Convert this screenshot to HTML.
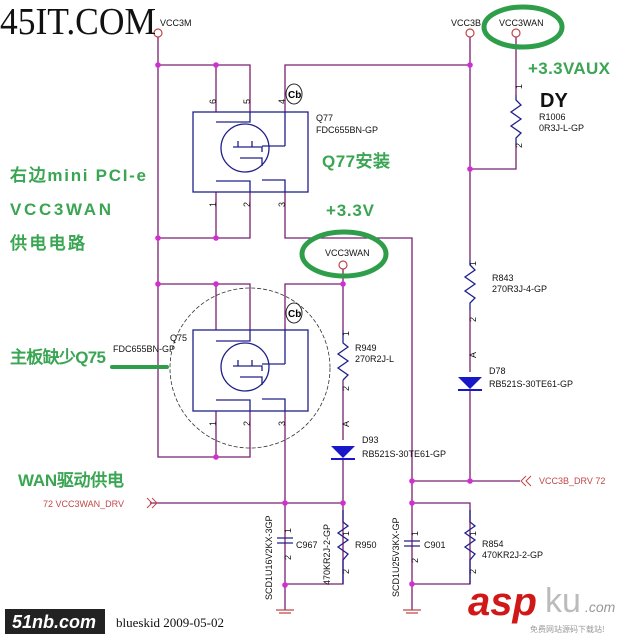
<!DOCTYPE html>
<html><head><meta charset="utf-8"><style>
body{margin:0;background:#fff}
svg{display:block}
text{font-family:"Liberation Sans",sans-serif}
.g{fill:#3aa552;font-weight:bold;font-family:"Liberation Sans","Noto Sans CJK SC",sans-serif}
.w{stroke:#7a2070;stroke-width:1.3;fill:none}
.c{stroke:#20208a;stroke-width:1.3;fill:none}
.d{fill:#d030d0}
.l{font-size:9px;fill:#111}
.serif{font-family:"Liberation Serif",serif}
</style></head><body>
<svg width="639" height="637" viewBox="0 0 639 637" xmlns="http://www.w3.org/2000/svg">
<g class="w">
<path d="M158 37V457H250V411"/>
<path d="M158 65H250V112M285 112V65H470"/>
<path d="M158 238H250V192M285 192V238H412V610"/>
<path d="M158 284H250V330M285 330V284H343V330"/>
<path d="M216 65V112M216 192V238M216 284V330M216 411V457"/>
<path d="M285 411V610"/>
<path d="M150 503H343M343 380V440M343 458V584H285"/>
<path d="M343 269V284"/>
<path d="M470 37V260M470 310V372M470 390V481H412M412 481H520"/>
<path d="M412 503H470V584H412"/>
<path d="M516 37V95M516 145V169H470"/>
</g>
<g fill="#fff" stroke="#c04848" stroke-width="1.2">
<circle cx="158" cy="33" r="4"/><circle cx="470" cy="33" r="4"/><circle cx="516" cy="33" r="4"/><circle cx="343" cy="265" r="4"/>
</g>
<g class="d">
<circle cx="158" cy="65" r="2.8"/><circle cx="216" cy="65" r="2.8"/><circle cx="470" cy="65" r="2.8"/>
<circle cx="158" cy="238" r="2.8"/><circle cx="216" cy="238" r="2.8"/><circle cx="470" cy="169" r="2.8"/>
<circle cx="158" cy="284" r="2.8"/><circle cx="216" cy="284" r="2.8"/><circle cx="343" cy="284" r="2.8"/>
<circle cx="216" cy="457" r="2.8"/><circle cx="285" cy="503" r="2.8"/><circle cx="343" cy="503" r="2.8"/>
<circle cx="285" cy="585" r="2.8"/><circle cx="412" cy="481" r="2.8"/><circle cx="470" cy="481" r="2.8"/>
<circle cx="412" cy="503" r="2.8"/><circle cx="412" cy="584" r="2.8"/>
</g>
<g class="c">
<rect x="193" y="112" width="115" height="80"/>
<circle cx="245" cy="148" r="24"/>
<path d="M216 122H250V112M216 181H250V192M285 146H262M262 180H285V192M285 112V146"/>
<path d="M233 147H262V152M238 141V147M252 141V147M240 158H262V166"/>
</g>
<circle cx="250" cy="368" r="80" fill="none" stroke="#333" stroke-width="0.8" stroke-dasharray="4 2"/>
<g class="c">
<rect x="193" y="330" width="115" height="81"/>
<circle cx="245" cy="367" r="24"/>
<path d="M216 341H250V330M216 400H250V411M285 364H262M262 399H285V411M285 330V364"/>
<path d="M233 366H262V371M238 360V366M252 360V366M240 377H262V385"/>
</g>
<g class="l">
<text x="210" y="104" transform="rotate(-90 213 101)">6</text><text x="244" y="104" transform="rotate(-90 247 101)">5</text><text x="279" y="104" transform="rotate(-90 282 101)">4</text>
<text x="210" y="207" transform="rotate(-90 213 204)">1</text><text x="244" y="207" transform="rotate(-90 247 204)">2</text><text x="279" y="207" transform="rotate(-90 282 204)">3</text>
<text x="210" y="426" transform="rotate(-90 213 423)">1</text><text x="244" y="426" transform="rotate(-90 247 423)">2</text><text x="279" y="426" transform="rotate(-90 282 423)">3</text>
<text x="316" y="121">Q77</text><text x="316" y="133">FDC655BN-GP</text>
<text x="170" y="341">Q75</text><text x="113" y="352">FDC655BN-GP</text>
</g>
<ellipse cx="294" cy="94" rx="8" ry="10" fill="none" stroke="#222"/><text x="288" y="98" font-size="10" font-weight="bold">Cb</text>
<ellipse cx="294" cy="313" rx="8" ry="10" fill="none" stroke="#222"/><text x="288" y="317" font-size="10" font-weight="bold">Cb</text>
<g class="c">
<path d="M516 95L516 100L521 105L511 112L521 119L511 126L521 133L516 138V145"/>
<path d="M470 260L470 265L475 270L465 277L475 284L465 291L475 298L470 303V310"/>
<path d="M343 330L343 343L348 347L338 354L348 361L338 368L348 375L343 380"/>
<path d="M343 510L343 522L348 526L338 533L348 540L338 547L348 554L343 560V584"/>
<path d="M470 510L470 522L475 526L465 533L475 540L465 547L475 554L470 560V584"/>
<path d="M277 538H293M277 543H293M404 541H420M404 546H420"/>
</g>
<path d="M458 377H482L470 389Z" fill="#1818c8"/><path d="M458 390H482" stroke="#1818c8" stroke-width="2"/>
<path d="M331 446H355L343 458Z" fill="#1818c8"/><path d="M331 459H355" stroke="#1818c8" stroke-width="2"/>
<g stroke="#c04848" stroke-width="1.3"><path d="M276 610H294M279 613H291M403 610H421M406 613H418"/></g>
<g class="l">
<text x="160" y="26">VCC3M</text>
<text x="451" y="26">VCC3B</text><text x="499" y="26">VCC3WAN</text>
<text x="325" y="256">VCC3WAN</text>
<text x="539" y="120">R1006</text><text x="539" y="131">0R3J-L-GP</text>
<text x="492" y="281">R843</text><text x="492" y="292">270R3J-4-GP</text>
<text x="489" y="374">D78</text><text x="489" y="387">RB521S-30TE61-GP</text>
<text x="355" y="351">R949</text><text x="355" y="362">270R2J-L</text>
<text x="362" y="443">D93</text><text x="362" y="457">RB521S-30TE61-GP</text>
<text x="355" y="548">R950</text><text x="296" y="548">C967</text>
<text x="424" y="548">C901</text><text x="482" y="547">R854</text><text x="482" y="558">470KR2J-2-GP</text>
<text transform="translate(272 600) rotate(-90)">SCD1U16V2KX-3GP</text>
<text transform="translate(330 585) rotate(-90)">470KR2J-2-GP</text>
<text transform="translate(399 597) rotate(-90)">SCD1U25V3KX-GP</text>
<text transform="translate(522 89) rotate(-90)">1</text><text transform="translate(522 148) rotate(-90)">2</text>
<text transform="translate(476 266) rotate(-90)">1</text><text transform="translate(476 322) rotate(-90)">2</text>
<text transform="translate(349 336) rotate(-90)">1</text><text transform="translate(349 391) rotate(-90)">2</text>
<text transform="translate(349 536) rotate(-90)">1</text><text transform="translate(349 574) rotate(-90)">2</text>
<text transform="translate(476 536) rotate(-90)">1</text><text transform="translate(476 574) rotate(-90)">2</text>
<text transform="translate(291 533) rotate(-90)">1</text><text transform="translate(291 560) rotate(-90)">2</text>
<text transform="translate(418 536) rotate(-90)">1</text><text transform="translate(418 563) rotate(-90)">2</text>
<text transform="translate(476 358) rotate(-90)">A</text><text transform="translate(349 427) rotate(-90)">A</text>
</g>
<text x="43" y="507" font-size="9" fill="#c04848">72  VCC3WAN_DRV</text>
<path d="M147 498l5 5-5 5M152 498l5 5-5 5" stroke="#c04848" fill="none"/>
<text x="539" y="484" font-size="9" fill="#c04848">VCC3B_DRV   72</text>
<path d="M526 476l-5 5 5 5M531 476l-5 5 5 5" stroke="#c04848" fill="none"/>
<ellipse cx="523" cy="27" rx="39" ry="20" fill="none" stroke="#2f9e4a" stroke-width="5"/>
<ellipse cx="344" cy="254" rx="42" ry="22" fill="none" stroke="#2f9e4a" stroke-width="5"/>
<line x1="112" y1="367" x2="167" y2="367" stroke="#2f9e4a" stroke-width="4" stroke-linecap="round"/>
<g class="g" font-size="17">
<text x="528" y="74" textLength="82">+3.3VAUX</text>
<text x="322" y="167" textLength="68">Q77安装</text>
<text x="326" y="216" textLength="48">+3.3V</text>
<text x="10" y="181" textLength="136">右边mini PCI-e</text>
<text x="10" y="215" textLength="101">VCC3WAN</text>
<text x="10" y="249" textLength="75">供电电路</text>
<text x="10" y="363" textLength="96">主板缺少Q75</text>
<text x="18" y="486" textLength="106">WAN驱动供电</text>
</g>
<text x="540" y="107" font-size="20" font-weight="bold" fill="#111">DY</text>
<text x="0" y="34" font-size="38" class="serif" fill="#111" textLength="156" lengthAdjust="spacingAndGlyphs">45IT.COM</text>
<rect x="5" y="609" width="100" height="25" fill="#222"/>
<text x="12" y="628" font-size="18" font-weight="bold" font-style="italic" fill="#fff">51nb.com</text>
<text x="116" y="627" font-size="13" class="serif" fill="#111">blueskid  2009-05-02</text>
<text x="468" y="615" font-size="40" font-weight="bold" font-style="italic" fill="#d01818">asp</text>
<text x="545" y="612" font-size="34" fill="#bbb">ku</text>
<text x="585" y="612" font-size="14" font-style="italic" fill="#999">.com</text>
<text x="530" y="632" font-size="8" fill="#999" style="font-family:'Noto Sans CJK SC',sans-serif">免费网站源码下载站!</text>
</svg>
</body></html>
